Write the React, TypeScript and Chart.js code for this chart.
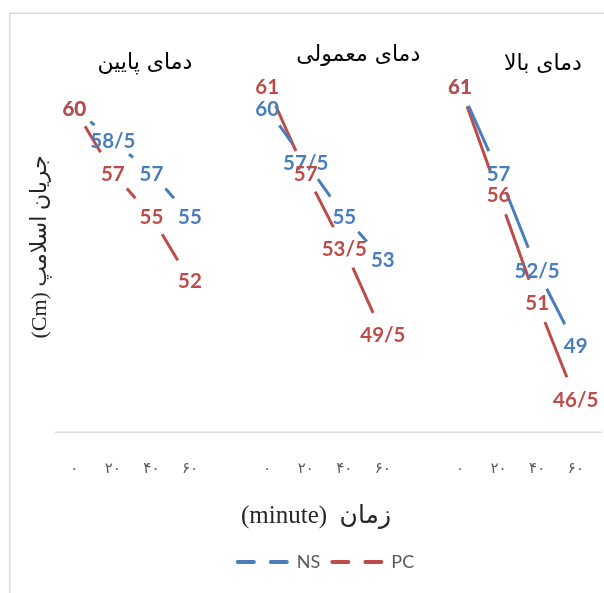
import React, { useEffect, useRef } from 'react';
import { Chart, registerables } from 'chart.js';

Chart.register(...registerables);

// Time (minutes) shown under each temperature group
const timeLabels = ['۰', '۲۰', '۴۰', '۶۰'];
const groupTitles = ['دمای پایین', 'دمای معمولی', 'دمای بالا'];

// Slump flow (cm), NS mixes
const nsLow = [60, 58.5, 57, 55];
const nsNormal = [60, 57.5, 55, 53];
const nsHigh = [61, 57, 52.5, 49];

// Slump flow (cm), PC mixes
const pcLow = [60, 57, 55, 52];
const pcNormal = [61, 57, 53.5, 49.5];
const pcHigh = [61, 56, 51, 46.5];

const seriesNames = ['NS', 'PC'];
const yTitle = 'جریان اسلامپ (Cm)';
const xTitle = 'زمان  (minute)';

const BLUE = '#4A7EBB';
const RED = '#BE4B48';
const GREY_TEXT = '#595959';
const RULE = '#D9D9D9';

// Group headings: anchor in category units and vertical position
const titleAnchors = [1.83, 7.36, 12.15];
const titleTops = [63, 55, 64];

// Each line segment stops short of the labelled points at both ends
const TRIM_START = 21;
const TRIM_END = 24;

// Temperature groups share one category axis, separated by an empty slot
function joinGroups<T>(groups: T[][], gap: T): T[] {
  return groups.flatMap((g, i) => (i === 0 ? g : [gap, ...g]));
}

const categories = joinGroups([timeLabels, timeLabels, timeLabels], '');
const nsData = joinGroups<number | null>([nsLow, nsNormal, nsHigh], null);
const pcData = joinGroups<number | null>([pcLow, pcNormal, pcHigh], null);

const formatValue = (v: number) => String(v).replace('.', '/');

const segLength = (ctx: any) => Math.hypot(ctx.p1.x - ctx.p0.x, ctx.p1.y - ctx.p0.y);
const segDash = (ctx: any) => {
  const len = segLength(ctx);
  const gap = TRIM_START + TRIM_END;
  return [Math.max(len - gap, 0.01), gap];
};
const segDashOffset = () => -TRIM_START;

// Value labels centred on each point, in the series colour
const valueLabels = {
  id: 'valueLabels',
  afterDatasetsDraw(chart: any) {
    const { ctx } = chart;
    ctx.save();
    ctx.font = '700 20.5px Lato';
    ctx.textAlign = 'center';
    ctx.textBaseline = 'middle';
    ctx.direction = 'ltr';
    chart.data.datasets.forEach((ds: any, di: number) => {
      const meta = chart.getDatasetMeta(di);
      meta.data.forEach((pt: any, i: number) => {
        const v = ds.data[i];
        if (v == null) return;
        ctx.fillStyle = ds.borderColor;
        ctx.fillText(formatValue(v), pt.x, pt.y + 1);
      });
    });
    ctx.restore();
  },
};

const frameAndText = {
  id: 'frameAndText',
  beforeDraw(chart: any) {
    const { ctx, width, height } = chart;
    ctx.save();
    ctx.fillStyle = '#ffffff';
    ctx.fillRect(0, 0, width, height);
    ctx.strokeStyle = RULE;
    ctx.lineWidth = 1.5;
    ctx.strokeRect(9.75, 13.25, width + 20, height + 20);
    ctx.restore();
  },
  beforeDatasetsDraw(chart: any) {
    const { ctx, chartArea, width } = chart;
    ctx.save();
    ctx.strokeStyle = RULE;
    ctx.lineWidth = 1.5;
    ctx.beginPath();
    ctx.moveTo(chartArea.left, chartArea.bottom + 0.25);
    ctx.lineTo(width - 2, chartArea.bottom + 0.25);
    ctx.stroke();
    ctx.restore();
  },
  afterDraw(chart: any) {
    const { ctx } = chart;
    const x = chart.scales.x;
    ctx.save();
    ctx.direction = 'rtl';
    ctx.textAlign = 'center';
    ctx.textBaseline = 'middle';
    ctx.fillStyle = '#000000';
    ctx.font = '22px "DejaVu Sans", serif';
    groupTitles.forEach((t, i) => {
      ctx.fillText(t, x.getPixelForValue(titleAnchors[i]), titleTops[i]);
    });

    ctx.fillStyle = '#262626';
    ctx.font = '25px "Liberation Serif", "DejaVu Sans", serif';
    ctx.fillText(xTitle, 316, 516);

    ctx.font = '22px "Liberation Serif", "DejaVu Sans", serif';
    ctx.translate(40, 247);
    ctx.rotate(-Math.PI / 2);
    ctx.fillText(yTitle, 0, 0);
    ctx.restore();
  },
};

const lineStyle = {
  borderWidth: 3,
  borderCapStyle: 'butt',
  pointRadius: 0,
  pointHoverRadius: 0,
  spanGaps: false,
  segment: { borderDash: segDash, borderDashOffset: segDashOffset },
};

export default function App() {
  const canvasRef = useRef<HTMLCanvasElement | null>(null);

  useEffect(() => {
    const canvas = canvasRef.current;
    if (!canvas) return;
    const chart = new Chart(canvas, {
      type: 'line',
      data: {
        labels: categories,
        datasets: [
          { label: seriesNames[0], data: nsData, borderColor: BLUE, backgroundColor: BLUE, ...lineStyle },
          { label: seriesNames[1], data: pcData, borderColor: RED, backgroundColor: RED, ...lineStyle },
        ],
      },
      options: {
        responsive: false,
        animation: false,
        events: [],
        layout: { padding: { left: 55, right: 9, top: 65, bottom: 12 } },
        scales: {
          x: {
            type: 'category',
            offset: true,
            grid: { display: false, drawTicks: false },
            border: { display: false },
            ticks: {
              autoSkip: false,
              maxRotation: 0,
              padding: 28,
              color: GREY_TEXT,
              font: { family: '"DejaVu Sans"', size: 15 },
            },
            afterFit: (scale: any) => {
              scale.height = 111;
              scale.paddingLeft = 0;
              scale.paddingRight = 0;
            },
          },
          y: {
            display: false,
            min: 45,
            max: 62,
          },
        },
        plugins: {
          title: { display: false },
          tooltip: { enabled: false },
          legend: {
            display: true,
            position: 'bottom',
            labels: {
              usePointStyle: true,
              pointStyle: 'line',
              pointStyleWidth: 52,
              padding: 10,
              color: GREY_TEXT,
              font: { family: 'Lato', size: 18 },
              sort: (a: any, b: any) => a.datasetIndex - b.datasetIndex,
              generateLabels: (c: any) =>
                Chart.defaults.plugins.legend.labels
                  .generateLabels(c)
                  .map((item: any) => ({ ...item, lineDash: [16, 17], lineDashOffset: -2, lineCap: 'round', lineWidth: 4 })),
            },
          },
        },
      },
      plugins: [valueLabels, frameAndText],
    } as any);
    return () => chart.destroy();
  }, []);

  return (
    <div style={{ position: 'fixed', left: 0, top: 0, width: 604, height: 593, overflow: 'hidden', background: '#fff' }}>
      <canvas ref={canvasRef} width={604} height={593} style={{ display: 'block' }} />
    </div>
  );
}
